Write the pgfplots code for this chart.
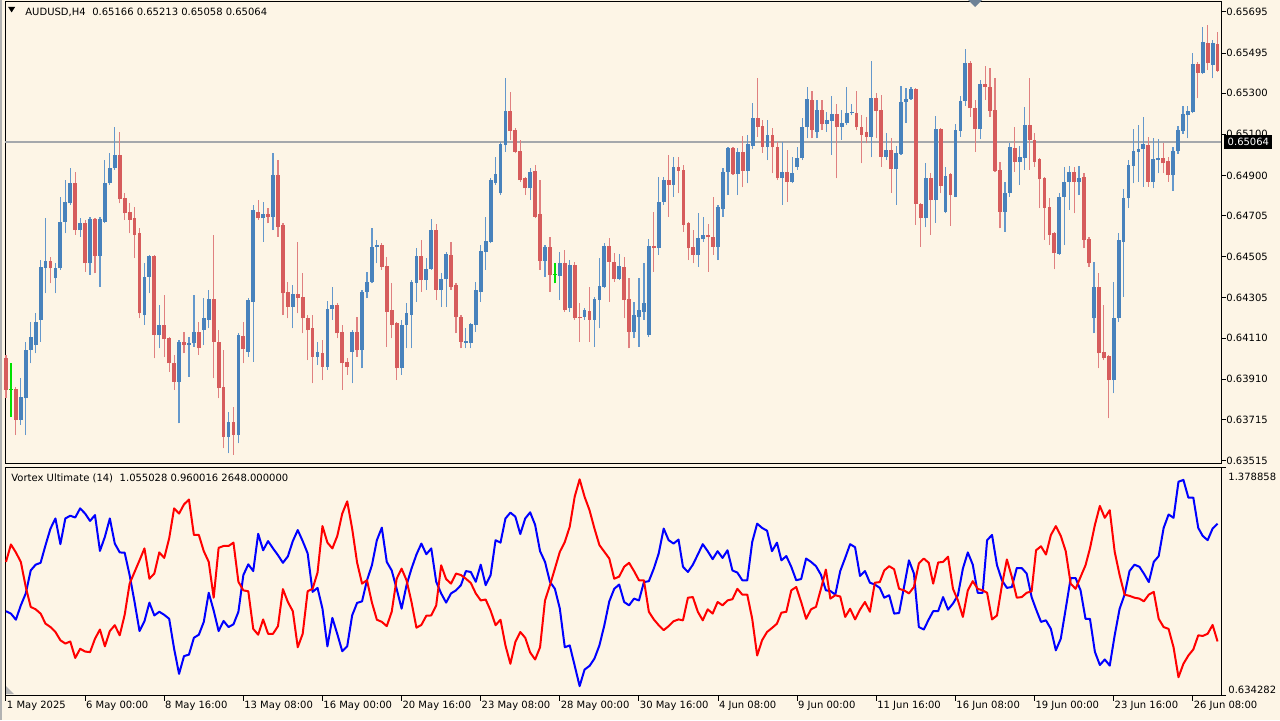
\documentclass[border=0pt]{standalone}
\usepackage{fontspec}
\setmainfont{DejaVu Sans}
\usepackage{pgfplots}
\usepackage{pgfplotstable}
\pgfplotsset{compat=1.18}
\definecolor{bgc}{RGB}{253,245,230}
\definecolor{bull}{RGB}{72,130,188}
\definecolor{bear}{RGB}{214,92,92}
\definecolor{bullw}{RGB}{100,152,204}
\definecolor{bearw}{RGB}{224,128,128}
\definecolor{doji}{RGB}{0,225,0}
\definecolor{bidline}{RGB}{165,168,172}
\definecolor{slate}{RGB}{110,130,150}

\pgfplotstableread{
i o h l c
3 0.63712 0.63914 0.63688 0.63825
4 0.63817 0.64093 0.63639 0.64052
5 0.64052 0.64190 0.63987 0.64117
6 0.64076 0.64230 0.64036 0.64190
7 0.64198 0.64489 0.64093 0.64457
8 0.64452 0.64692 0.64327 0.64485
10 0.64400 0.64473 0.64327 0.64449
11 0.64449 0.64797 0.64441 0.64676
12 0.64676 0.64878 0.64619 0.64773
13 0.64765 0.64935 0.64757 0.64862
15 0.64635 0.64692 0.64603 0.64668
17 0.64473 0.64700 0.64417 0.64687
19 0.64509 0.64700 0.64360 0.64687
20 0.64676 0.64975 0.64668 0.64862
21 0.64862 0.65008 0.64854 0.64935
22 0.64935 0.65137 0.64927 0.65000
28 0.64222 0.64473 0.64174 0.64408
29 0.64408 0.64514 0.64327 0.64509
31 0.64125 0.64271 0.64060 0.64174
35 0.63898 0.64101 0.63696 0.64093
37 0.64076 0.64117 0.63922 0.64084
38 0.64084 0.64319 0.64068 0.64141
40 0.64149 0.64303 0.64076 0.64206
41 0.64198 0.64344 0.64157 0.64298
45 0.63631 0.63752 0.63550 0.63704
47 0.63639 0.64133 0.63598 0.64125
49 0.64044 0.64303 0.64020 0.64295
50 0.64287 0.64757 0.63995 0.64732
52 0.64692 0.64773 0.64579 0.64711
54 0.64700 0.65008 0.64635 0.64903
58 0.64263 0.64368 0.64157 0.64323
63 0.64020 0.64093 0.63979 0.64044
65 0.63971 0.64290 0.63955 0.64250
66 0.64250 0.64360 0.64198 0.64271
70 0.64044 0.64149 0.63890 0.64141
72 0.64052 0.64344 0.63963 0.64336
73 0.64336 0.64433 0.64303 0.64384
74 0.64384 0.64643 0.64376 0.64554
75 0.64554 0.64587 0.64473 0.64562
80 0.63963 0.64198 0.63931 0.64174
81 0.64174 0.64280 0.64060 0.64230
82 0.64222 0.64392 0.64060 0.64384
83 0.64379 0.64546 0.64287 0.64509
85 0.64392 0.64498 0.64344 0.64444
86 0.64444 0.64687 0.64441 0.64635
88 0.64344 0.64428 0.64263 0.64395
89 0.64395 0.64530 0.64263 0.64519
93 0.64088 0.64157 0.64060 0.64097
94 0.64084 0.64182 0.64060 0.64178
95 0.64174 0.64384 0.64141 0.64344
96 0.64336 0.64562 0.64287 0.64535
97 0.64530 0.64700 0.64441 0.64583
98 0.64579 0.64886 0.64570 0.64878
99 0.64865 0.64992 0.64854 0.64907
100 0.64813 0.65065 0.64805 0.65053
101 0.65048 0.65372 0.65016 0.65214
106 0.64838 0.64935 0.64781 0.64919
109 0.64485 0.64562 0.64408 0.64551
112 0.64412 0.64530 0.64295 0.64476
114 0.64255 0.64489 0.64238 0.64465
117 0.64214 0.64255 0.64198 0.64246
119 0.64198 0.64311 0.64068 0.64298
120 0.64295 0.64498 0.64157 0.64363
121 0.64360 0.64570 0.64352 0.64557
124 0.64395 0.64519 0.64392 0.64460
127 0.64141 0.64287 0.64109 0.64222
128 0.64211 0.64400 0.64068 0.64246
129 0.64238 0.64473 0.64198 0.64282
130 0.64125 0.64590 0.64117 0.64557
132 0.64546 0.64894 0.64514 0.64773
133 0.64773 0.64894 0.64757 0.64878
135 0.64854 0.64992 0.64797 0.64943
140 0.64514 0.64719 0.64457 0.64595
141 0.64590 0.64700 0.64579 0.64611
144 0.64554 0.64757 0.64489 0.64745
145 0.64736 0.64935 0.64700 0.64919
146 0.64919 0.65040 0.64805 0.65035
148 0.64907 0.65032 0.64805 0.65016
150 0.64924 0.65097 0.64862 0.65053
151 0.65043 0.65251 0.65027 0.65178
154 0.65040 0.65170 0.64975 0.65097
157 0.64886 0.65065 0.64757 0.64919
159 0.64870 0.64992 0.64862 0.64914
160 0.64943 0.65040 0.64927 0.64984
161 0.64984 0.65178 0.64975 0.65137
162 0.65137 0.65332 0.65081 0.65270
164 0.65113 0.65267 0.65081 0.65218
166 0.65150 0.65210 0.65113 0.65170
167 0.65167 0.65286 0.65000 0.65199
169 0.65137 0.65218 0.65073 0.65157
170 0.65154 0.65329 0.65145 0.65202
171 0.65202 0.65248 0.65194 0.65210
175 0.65089 0.65457 0.64988 0.65278
178 0.64992 0.65105 0.64975 0.65024
180 0.64930 0.65043 0.64757 0.65008
181 0.65005 0.65335 0.65000 0.65259
182 0.65259 0.65324 0.65154 0.65272
183 0.65270 0.65329 0.65267 0.65319
186 0.64692 0.64959 0.64648 0.64886
188 0.64781 0.65189 0.64671 0.65126
190 0.64724 0.64943 0.64716 0.64899
192 0.64797 0.65150 0.64794 0.65121
193 0.65118 0.65286 0.65089 0.65264
194 0.65264 0.65513 0.65238 0.65445
197 0.65124 0.65364 0.65076 0.65345
202 0.64724 0.64870 0.64627 0.64817
203 0.64817 0.65056 0.64797 0.65040
205 0.64967 0.65043 0.64854 0.64988
206 0.64984 0.65235 0.64927 0.65145
213 0.64519 0.64813 0.64514 0.64797
214 0.64797 0.64943 0.64562 0.64870
215 0.64870 0.64946 0.64732 0.64919
217 0.64870 0.64946 0.64805 0.64886
220 0.64206 0.64481 0.64133 0.64360
224 0.63906 0.64384 0.63841 0.64206
225 0.64206 0.64619 0.64190 0.64587
226 0.64579 0.64833 0.64311 0.64789
227 0.64789 0.64975 0.64741 0.64951
228 0.64946 0.65124 0.64862 0.65021
229 0.65016 0.65145 0.64870 0.65027
230 0.65027 0.65183 0.64846 0.65052
232 0.64870 0.65081 0.64838 0.64979
233 0.64975 0.65076 0.64911 0.64984
236 0.64903 0.65037 0.64826 0.65021
237 0.65021 0.65141 0.65005 0.65121
238 0.65118 0.65238 0.65102 0.65199
239 0.65194 0.65238 0.65081 0.65215
240 0.65210 0.65497 0.65202 0.65442
242 0.65400 0.65620 0.65393 0.65551
244 0.65437 0.65559 0.65372 0.65542
}\bulltab

\pgfplotstableread{
i o h l c
0 0.64012 0.64028 0.63817 0.63858
2 0.63861 0.63874 0.63639 0.63712
9 0.64485 0.64506 0.64376 0.64449
14 0.64862 0.64919 0.64611 0.64635
16 0.64668 0.64684 0.64433 0.64473
18 0.64687 0.64692 0.64425 0.64509
23 0.65000 0.65113 0.64765 0.64784
24 0.64789 0.64813 0.64684 0.64716
25 0.64723 0.64765 0.64619 0.64684
26 0.64692 0.64749 0.64498 0.64611
27 0.64619 0.64643 0.64206 0.64230
30 0.64509 0.64514 0.64012 0.64125
32 0.64174 0.64319 0.64020 0.64104
33 0.64109 0.64115 0.63947 0.63987
34 0.63987 0.64028 0.63858 0.63898
36 0.64093 0.64141 0.64036 0.64076
39 0.64141 0.64190 0.64028 0.64060
42 0.64298 0.64611 0.63914 0.64093
43 0.64093 0.64149 0.63817 0.63866
44 0.63874 0.64052 0.63574 0.63631
46 0.63704 0.63777 0.63542 0.63639
48 0.64120 0.64190 0.63987 0.64055
51 0.64724 0.64781 0.64684 0.64692
53 0.64711 0.64741 0.64668 0.64700
55 0.64903 0.64975 0.64603 0.64651
56 0.64660 0.64668 0.64222 0.64327
57 0.64336 0.64384 0.64206 0.64263
59 0.64323 0.64579 0.64230 0.64306
60 0.64311 0.64425 0.64133 0.64206
61 0.64206 0.64222 0.64003 0.64149
62 0.64157 0.64222 0.63890 0.64020
64 0.64039 0.64101 0.63906 0.63971
67 0.64271 0.64279 0.64109 0.64133
68 0.64141 0.64174 0.63858 0.63987
69 0.63995 0.64012 0.63931 0.63971
71 0.64141 0.64214 0.64020 0.64052
76 0.64562 0.64570 0.64441 0.64457
77 0.64460 0.64506 0.64068 0.64238
78 0.64246 0.64376 0.64109 0.64174
79 0.64182 0.64190 0.63906 0.63963
84 0.64509 0.64587 0.64336 0.64392
87 0.64635 0.64664 0.64295 0.64344
90 0.64514 0.64579 0.64344 0.64360
91 0.64368 0.64376 0.64133 0.64214
92 0.64214 0.64222 0.64060 0.64093
102 0.65214 0.65308 0.65073 0.65116
103 0.65121 0.65129 0.65008 0.65016
104 0.65021 0.65073 0.64870 0.64878
105 0.64886 0.64894 0.64805 0.64838
107 0.64924 0.64951 0.64692 0.64700
108 0.64713 0.64878 0.64441 0.64485
110 0.64551 0.64603 0.64336 0.64417
113 0.64476 0.64538 0.64238 0.64246
115 0.64465 0.64481 0.64198 0.64206
116 0.64214 0.64279 0.64093 0.64206
118 0.64243 0.64357 0.64093 0.64198
122 0.64557 0.64595 0.64287 0.64481
123 0.64481 0.64522 0.64384 0.64395
125 0.64457 0.64506 0.64206 0.64295
126 0.64298 0.64400 0.64060 0.64141
131 0.64557 0.64724 0.64433 0.64546
134 0.64878 0.65000 0.64700 0.64854
136 0.64943 0.64992 0.64813 0.64924
137 0.64927 0.64951 0.64627 0.64660
138 0.64668 0.64676 0.64489 0.64546
139 0.64554 0.64635 0.64473 0.64514
142 0.64611 0.64664 0.64433 0.64600
143 0.64603 0.64797 0.64514 0.64554
147 0.65035 0.65040 0.64903 0.64907
149 0.65016 0.65092 0.64843 0.64924
152 0.65178 0.65372 0.65089 0.65137
153 0.65141 0.65170 0.65011 0.65040
155 0.65097 0.65129 0.64911 0.65037
156 0.65040 0.65065 0.64878 0.64886
158 0.64919 0.65024 0.64773 0.64870
163 0.65267 0.65312 0.65081 0.65121
165 0.65218 0.65267 0.65121 0.65150
168 0.65199 0.65248 0.64886 0.65137
172 0.65205 0.65312 0.65121 0.65134
173 0.65137 0.65194 0.64959 0.65097
174 0.65113 0.65186 0.65056 0.65089
176 0.65278 0.65299 0.65081 0.65214
177 0.65218 0.65291 0.64943 0.64992
179 0.65024 0.65084 0.64817 0.64930
184 0.65319 0.65324 0.64660 0.64762
185 0.64762 0.64765 0.64554 0.64692
187 0.64886 0.64914 0.64611 0.64781
189 0.65126 0.65129 0.64813 0.64849
191 0.64906 0.64911 0.64655 0.64805
195 0.65448 0.65458 0.65186 0.65227
196 0.65227 0.65267 0.65016 0.65124
198 0.65345 0.65432 0.65267 0.65329
199 0.65332 0.65421 0.65186 0.65214
200 0.65218 0.65372 0.64919 0.64924
201 0.64927 0.64967 0.64643 0.64724
204 0.65032 0.65137 0.64919 0.64967
207 0.65145 0.65372 0.64927 0.65073
208 0.65073 0.65105 0.64943 0.64967
209 0.64979 0.64984 0.64741 0.64881
210 0.64886 0.64894 0.64587 0.64741
211 0.64745 0.64789 0.64562 0.64611
212 0.64619 0.64627 0.64444 0.64522
216 0.64919 0.64943 0.64716 0.64870
218 0.64894 0.64911 0.64546 0.64587
219 0.64590 0.64603 0.64457 0.64473
221 0.64360 0.64425 0.63963 0.64036
222 0.64044 0.64271 0.64003 0.64012
223 0.64023 0.64028 0.63720 0.63906
231 0.65048 0.65089 0.64846 0.64870
234 0.64984 0.65060 0.64911 0.64959
235 0.64971 0.64992 0.64870 0.64903
241 0.65442 0.65453 0.65275 0.65400
243 0.65542 0.65632 0.65413 0.65445
245 0.65539 0.65599 0.65405 0.65410
}\beartab

\pgfplotstableread{
i o h l c
1 0.63861 0.63987 0.63728 0.63861
111 0.64417 0.64473 0.64376 0.64417
}\dojitab

\pgfplotsset{
  panel/.style={
    anchor=south west, scale only axis, width=608pt,
    xmin=-0.2, xmax=245.7,
    axis line style={black, line width=0.5pt},
    tick style={black, line width=0.5pt},
    major tick length=2.5pt, tick align=outside,
    ytick pos=right, yticklabel pos=right,
    yticklabel style={anchor=west, inner sep=0pt},
    tick label style={font=\fontsize{5}{6}\selectfont},
    scaled ticks=false, clip=false,
  },
}

\begin{document}
\begin{tikzpicture}
\fill[bgc] (0,0) rectangle (640pt,360pt);
\useasboundingbox (0,0) rectangle (640pt,360pt);
\draw[gray!60, line width=0.8pt] (0.4pt,0) -- (0.4pt,360pt);

% ---------------- price panel ----------------
\begin{axis}[panel, at={(2.5pt,128.5pt)}, height=231pt,
  ymin=0.63503, ymax=0.65748, xtick=\empty,
  ytick={0.63515,0.63715,0.63910,0.64110,0.64305,0.64505,0.64705,0.64900,0.65100,0.65300,0.65495,0.65695},
  yticklabels={0.63515,0.63715,0.63910,0.64110,0.64305,0.64505,0.64705,0.64900,0.65100,0.65300,0.65495,0.65695},
]
\addplot[color=bidline, line width=0.8pt, forget plot] coordinates {(-0.2,0.65064) (245.7,0.65064)};
% wicks
\addplot[draw=none, mark=none, forget plot, error bars/.cd, y dir=plus, y explicit, error mark=none,
  error bar style={draw=bullw, line width=0.6pt}]
  table[x=i, y=l, y error plus expr=\thisrow{h}-\thisrow{l}] {\bulltab};
\addplot[draw=none, mark=none, forget plot, error bars/.cd, y dir=plus, y explicit, error mark=none,
  error bar style={draw=bearw, line width=0.6pt}]
  table[x=i, y=l, y error plus expr=\thisrow{h}-\thisrow{l}] {\beartab};
\addplot[draw=none, mark=none, forget plot, error bars/.cd, y dir=plus, y explicit, error mark=none,
  error bar style={draw=doji, line width=0.6pt}]
  table[x=i, y=l, y error plus expr=\thisrow{h}-\thisrow{l}] {\dojitab};
% bodies
\addplot[draw=none, mark=none, forget plot, error bars/.cd, y dir=plus, y explicit, error mark=none,
  error bar style={draw=bull, line width=1.9pt}]
  table[x=i, y=o, y error plus expr=\thisrow{c}-\thisrow{o}] {\bulltab};
\addplot[draw=none, mark=none, forget plot, error bars/.cd, y dir=plus, y explicit, error mark=none,
  error bar style={draw=bear, line width=1.9pt}]
  table[x=i, y=c, y error plus expr=\thisrow{o}-\thisrow{c}] {\beartab};
\addplot[only marks, mark=-, mark size=1.1pt, color=doji, mark options={line width=0.5pt}, forget plot]
  table[x=i, y=c] {\dojitab};
\end{axis}

% ---------------- indicator panel ----------------
\begin{axis}[panel, at={(2.5pt,12.25pt)}, height=113.9pt,
  ymin=0.634282, ymax=1.378858,
  ytick={0.634282,1.378858}, yticklabels={,},
  xtick={0,16,32,48,64,80,96,112,128,144,160,176,192,208,224,240},
  xticklabels={1 May 2025,6 May 00:00,8 May 16:00,13 May 08:00,16 May 00:00,20 May 16:00,23 May 08:00,28 May 00:00,30 May 16:00,4 Jun 08:00,9 Jun 00:00,11 Jun 16:00,16 Jun 08:00,19 Jun 00:00,23 Jun 16:00,26 Jun 08:00},
  xtick pos=left, xticklabel pos=left,
  xticklabel style={anchor=north west, inner sep=0pt, xshift=0.3pt},
]
\addplot[blue, line width=1pt, line join=round] coordinates {
(0,0.910)(1,0.902)(2,0.882)(3,0.929)(4,0.968)(5,1.043)(6,1.062)(7,1.068)(8,1.126)(9,1.180)(10,1.213)(11,1.129)(12,1.213)(13,1.222)(14,1.216)(15,1.246)(16,1.229)(17,1.205)(18,1.224)(19,1.107)(20,1.153)(21,1.213)(22,1.131)(23,1.102)(24,1.101)(25,1.028)(26,0.940)(27,0.845)(28,0.877)(29,0.938)(30,0.896)(31,0.908)(32,0.898)(33,0.885)(34,0.787)(35,0.705)(36,0.763)(37,0.768)(38,0.823)(39,0.833)(40,0.875)(41,0.970)(42,0.912)(43,0.845)(44,0.878)(45,0.858)(46,0.867)(47,0.908)(48,1.028)(49,1.063)(50,1.041)(51,1.163)(52,1.109)(53,1.139)(54,1.115)(55,1.093)(56,1.068)(57,1.089)(58,1.139)(59,1.175)(60,1.139)(61,1.099)(62,0.973)(63,0.986)(64,0.918)(65,0.795)(66,0.888)(67,0.835)(68,0.779)(69,0.795)(70,0.896)(71,0.937)(72,0.942)(73,1.011)(74,1.060)(75,1.142)(76,1.183)(77,1.071)(78,1.043)(79,0.983)(80,0.918)(81,0.995)(82,1.049)(83,1.095)(84,1.131)(85,1.096)(86,1.115)(87,1.006)(88,0.968)(89,0.938)(90,0.968)(91,0.978)(92,0.995)(93,1.041)(94,1.038)(95,1.006)(96,1.062)(97,0.995)(98,1.028)(99,1.142)(100,1.134)(101,1.213)(102,1.232)(103,1.219)(104,1.162)(105,1.213)(106,1.233)(107,1.192)(108,1.106)(109,1.071)(110,1.006)(111,0.983)(112,0.918)(113,0.792)(114,0.798)(115,0.732)(116,0.665)(117,0.719)(118,0.731)(119,0.755)(120,0.798)(121,0.864)(122,0.942)(123,0.983)(124,0.997)(125,0.940)(126,0.929)(127,0.951)(128,0.945)
(129.0,1.005)(130.0,1.008)(131.0,1.049)(132.0,1.099)(133.0,1.180)(134.0,1.142)(135.0,1.131)(136.0,1.144)(136.9,1.055)(137.9,1.038)(138.9,1.062)(139.9,1.095)(140.9,1.129)(141.9,1.106)(142.9,1.080)(143.9,1.106)(144.9,1.084)(145.9,1.109)(146.9,1.043)(147.9,1.036)(148.9,1.011)(149.9,1.011)(150.9,1.136)(151.9,1.196)(152.9,1.182)(153.9,1.173)(154.9,1.106)(155.9,1.134)(156.8,1.076)(157.8,1.090)(158.8,1.055)(159.8,1.011)(160.8,1.015)(161.8,1.082)(162.8,1.071)(163.8,1.057)(164.8,1.029)(165.8,0.978)(166.7,0.976)(167.7,0.964)(168.7,1.041)(169.7,1.084)(170.7,1.129)(171.7,1.119)(172.7,1.025)(173.7,1.041)(174.7,1.003)(175.7,0.997)(176.7,0.986)(177.6,0.954)(178.6,0.962)(179.6,0.902)(180.6,0.904)(181.6,0.989)(182.6,1.076)(183.6,1.033)(184.6,0.858)(185.6,0.850)(186.6,0.883)(187.5,0.910)(188.5,0.910)(189.5,0.956)(190.5,0.915)(191.5,0.935)(192.5,0.962)(193.5,1.049)(194.5,1.102)(195.5,1.062)(196.5,0.970)(197.5,0.970)(198.4,1.142)(199.4,1.159)(200.4,1.060)(201.4,1.011)(202.4,0.986)(203.4,0.989)(204.4,1.051)(205.4,1.051)(206.4,1.033)(207.4,0.956)(208.3,0.916)(209.3,0.875)(210.3,0.880)(211.3,0.852)(212.3,0.782)(213.3,0.820)(214.3,0.918)(215.3,1.018)(216.3,1.018)(217.3,0.978)(218.3,0.885)(219.2,0.885)(220.2,0.777)(221.2,0.734)(222.2,0.752)(223.2,0.732)(224.2,0.831)(225.2,0.918)(226.2,0.964)(227.2,1.041)(228.2,1.062)(229.2,1.055)(230.1,1.033)(231.1,1.005)(232.1,1.071)(233.1,1.090)(234.1,1.182)(235.1,1.226)(236.1,1.215)(237.1,1.333)(238.1,1.339)(239.1,1.281)(240.1,1.281)(241.1,1.182)(242.0,1.156)(243.0,1.142)(244.0,1.180)(245.0,1.196)
};
\addplot[red, line width=1pt, line join=round] coordinates {
(0,1.071)(1,1.128)(2,1.102)(3,1.071)(4,0.989)(5,0.924)(6,0.916)(7,0.902)(8,0.869)(9,0.858)(10,0.842)(11,0.815)(12,0.804)(13,0.811)(14,0.757)(15,0.787)(16,0.778)(17,0.776)(18,0.820)(19,0.850)(20,0.795)(21,0.845)(22,0.864)(23,0.831)(24,0.898)(25,1.000)(26,1.038)(27,1.076)(28,1.115)(29,1.016)(30,1.033)(31,1.102)(32,1.084)(33,1.148)(34,1.246)(35,1.229)(36,1.259)(37,1.275)(38,1.159)(39,1.159)(40,1.106)(41,1.071)(42,0.954)(43,1.117)(44,1.123)(45,1.123)(46,1.134)(47,1.006)(48,0.978)(49,0.975)(50,0.852)(51,0.833)(52,0.883)(53,0.836)(54,0.836)(55,0.861)(56,0.982)(57,0.940)(58,0.910)(59,0.792)(60,0.836)(61,0.975)(62,0.983)(63,1.036)(64,1.188)(65,1.134)(66,1.115)(67,1.156)(68,1.229)(69,1.269)(70,1.180)(71,1.069)(72,1.000)(73,1.011)(74,0.938)(75,0.882)(76,0.875)(77,0.861)(78,0.908)(79,1.016)(80,1.049)(81,1.011)(82,0.940)(83,0.856)(84,0.865)(85,0.895)(86,0.896)(87,0.929)(88,1.060)(89,1.015)(90,1.000)(91,1.033)(92,1.028)(93,1.016)(94,1.002)(95,0.968)(96,0.945)(97,0.948)(98,0.912)(99,0.864)(100,0.882)(101,0.798)(102,0.738)(103,0.809)(104,0.842)(105,0.823)(106,0.775)(107,0.752)(108,0.792)(109,0.945)(110,0.995)(111,1.049)(112,1.104)(113,1.136)(114,1.186)(115,1.284)(116,1.341)(117,1.284)(118,1.240)(119,1.180)(120,1.126)(121,1.104)(122,1.082)(123,1.016)(124,1.023)(125,1.055)(126,1.068)(127,1.041)(128,1.011)
(129.0,1.011)(130.0,0.908)(131.0,0.883)(132.0,0.864)(133.0,0.848)(134.0,0.861)(135.0,0.877)(136.0,0.883)(136.9,0.880)(137.9,0.954)(138.9,0.956)(139.9,0.908)(140.9,0.880)(141.9,0.916)(142.9,0.902)(143.9,0.940)(144.9,0.929)(145.9,0.945)(146.9,0.949)(147.9,0.983)(148.9,0.964)(149.9,0.964)(150.9,0.885)(151.9,0.765)(152.9,0.815)(153.9,0.842)(154.9,0.855)(155.9,0.869)(156.8,0.905)(157.8,0.908)(158.8,0.978)(159.8,0.989)(160.8,0.940)(161.8,0.885)(162.8,0.916)(163.8,0.924)(164.8,0.983)(165.8,1.046)(166.7,0.951)(167.7,0.962)(168.7,0.958)(169.7,0.891)(170.7,0.918)(171.7,0.883)(172.7,0.915)(173.7,0.940)(174.7,0.908)(175.7,1.003)(176.7,1.005)(177.6,1.043)(178.6,1.057)(179.6,1.047)(180.6,0.983)(181.6,0.978)(182.6,0.968)(183.6,0.989)(184.6,1.066)(185.6,1.082)(186.6,1.068)(187.5,1.000)(188.5,1.069)(189.5,1.071)(190.5,1.088)(191.5,0.983)(192.5,0.945)(193.5,0.891)(194.5,0.978)(195.5,1.008)(196.5,0.983)(197.5,0.978)(198.4,0.970)(199.4,0.883)(200.4,0.896)(201.4,0.995)(202.4,1.079)(203.4,1.022)(204.4,0.954)(205.4,0.956)(206.4,0.970)(207.4,0.975)(208.3,1.109)(209.3,1.122)(210.3,1.095)(211.3,1.159)(212.3,1.188)(213.3,1.156)(214.3,1.106)(215.3,1.000)(216.3,0.983)(217.3,1.022)(218.3,1.060)(219.2,1.115)(220.2,1.192)(221.2,1.254)(222.2,1.215)(223.2,1.240)(224.2,1.104)(225.2,1.028)(226.2,0.964)(227.2,0.960)(228.2,0.954)(229.2,0.951)(230.1,0.942)(231.1,0.964)(232.1,0.973)(233.1,0.885)(234.1,0.858)(235.1,0.852)(236.1,0.792)(237.1,0.694)(238.1,0.738)(239.1,0.765)(240.1,0.785)(241.1,0.831)(242.0,0.829)(243.0,0.836)(244.0,0.865)(245.0,0.811)
};
\node[anchor=north west, inner sep=0pt, font=\fontsize{5}{6}\selectfont] at ([xshift=3.5pt, yshift=-2.7pt]rel axis cs:1,1) {1.378858};
\node[anchor=base west, inner sep=0pt, font=\fontsize{5}{6}\selectfont] at ([xshift=3.5pt, yshift=1pt]rel axis cs:1,0) {0.634282};
\end{axis}

% ---------------- decorations and headers ----------------
\node[fill=black, text=white, inner sep=0pt, minimum width=24pt, minimum height=7pt, anchor=west,
  font=\fontsize{5}{6}\selectfont] at (612pt,289pt) {0.65064};
\fill[black] (4pt,356.6pt) -- (7.6pt,356.6pt) -- (5.8pt,353.8pt) -- cycle;
\node[anchor=base west, inner sep=0pt, font=\fontsize{5}{6}\selectfont] at (12.5pt,352.3pt)
  {AUDUSD,H4\hspace{3.3pt}0.65166 0.65213 0.65058 0.65064};
\node[anchor=base west, inner sep=0pt, font=\fontsize{5}{6}\selectfont] at (5.5pt,119.3pt)
  {Vortex Ultimate (14)\hspace{3.3pt}1.055028 0.960016 2648.000000};
\fill[slate] (484pt,360pt) -- (491pt,360pt) -- (487.5pt,356.5pt) -- cycle;
\fill[gray!60] (3pt,13pt) -- (3pt,17pt) -- (7pt,13pt) -- cycle;
\end{tikzpicture}
\end{document}
